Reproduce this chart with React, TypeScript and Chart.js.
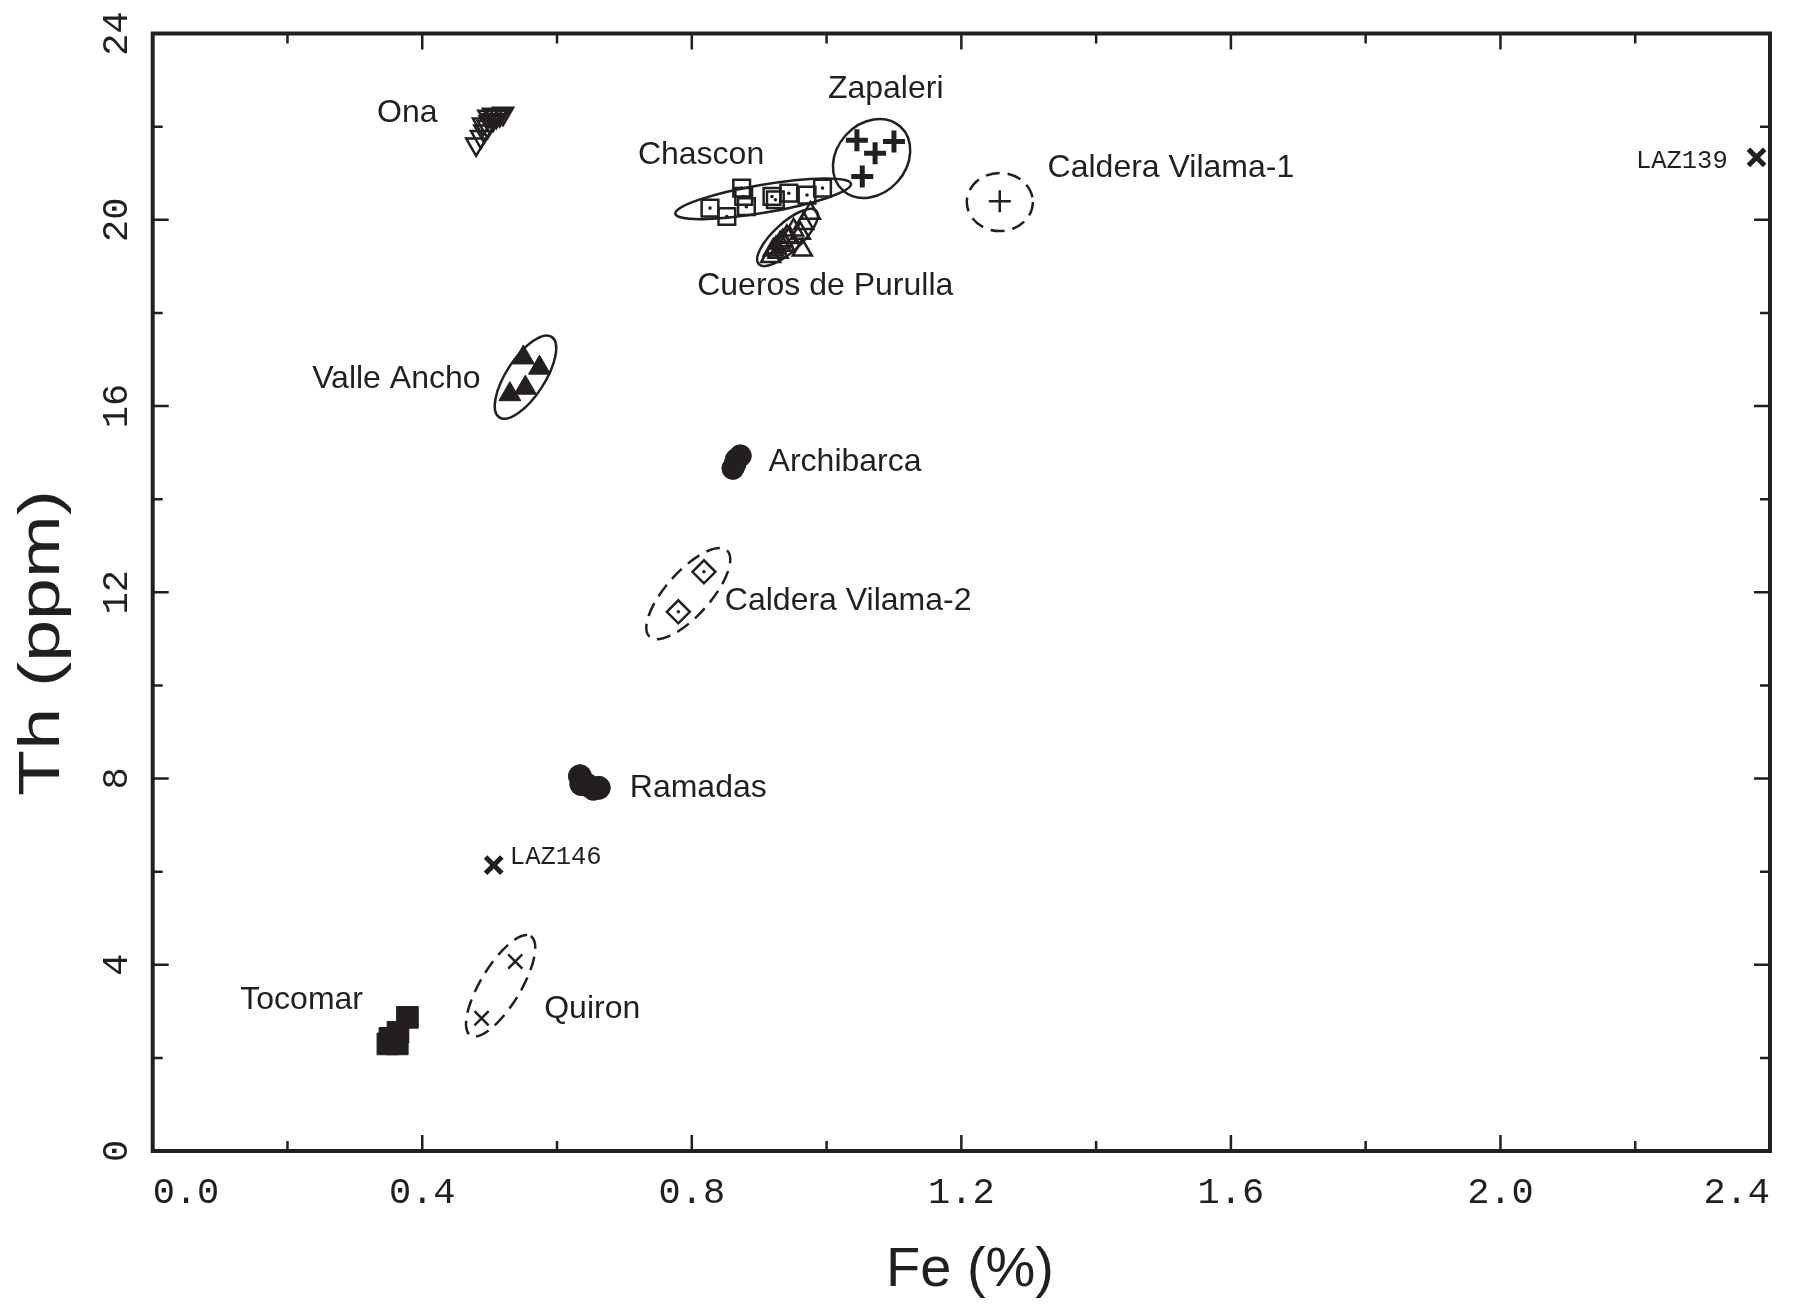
import React, { useEffect, useRef } from 'react';
import { Chart, registerables } from 'chart.js';

Chart.register(...registerables);

// ---- axis ticks ----
const xMajorTicks = [0, 0.4, 0.8, 1.2, 1.6, 2.0, 2.4];
const xTickLabels = ['0.0', '0.4', '0.8', '1.2', '1.6', '2.0', '2.4'];
const xMinorTicks = [0.2, 0.6, 1.0, 1.4, 1.8, 2.2];
const yMajorTicks = [0, 4, 8, 12, 16, 20, 24];
const yTickLabels = ['0', '4', '8', '12', '16', '20', '24'];
const yMinorTicks = [2, 6, 10, 14, 18, 22];

// ---- data (Fe %, Th ppm) ----
const onaFe = [0.480, 0.487, 0.492, 0.497, 0.500, 0.505, 0.510, 0.515, 0.520, 0.498, 0.505, 0.490];
const onaTh = [21.62, 21.78, 21.90, 22.00, 22.10, 22.15, 22.22, 22.25, 22.28, 22.22, 22.26, 22.05];

const chasconFe = [0.827, 0.852, 0.874, 0.877, 0.881, 0.919, 0.924, 0.944, 0.971, 0.994];
const chasconTh = [20.25, 20.07, 20.68, 20.50, 20.28, 20.50, 20.43, 20.57, 20.53, 20.68];

const cuerosFe = [0.917, 0.921, 0.925, 0.931, 0.935, 0.941, 0.945, 0.951, 0.961, 0.964, 0.966, 0.976, 0.928, 0.938];
const cuerosTh = [19.21, 19.35, 19.40, 19.50, 19.55, 19.64, 19.62, 19.78, 19.71, 19.35, 19.92, 20.14, 19.30, 19.45];

const zapaleriFe = [1.045, 1.072, 1.100, 1.053];
const zapaleriTh = [21.71, 21.43, 21.68, 20.93];

const vilama1Fe = [1.257];
const vilama1Th = [20.40];

const valleAnchoFe = [0.550, 0.574, 0.553, 0.530];
const valleAnchoTh = [17.04, 16.82, 16.39, 16.25];

const archibarcaFe = [0.861, 0.866, 0.872, 0.864];
const archibarcaTh = [14.66, 14.85, 14.93, 14.75];

const vilama2Fe = [0.818, 0.780];
const vilama2Th = [12.44, 11.58];

const ramadasFe = [0.634, 0.636, 0.645, 0.662, 0.654];
const ramadasTh = [8.05, 7.88, 7.86, 7.80, 7.78];

const laz146Fe = [0.506];
const laz146Th = [6.14];

const laz139Fe = [2.380];
const laz139Th = [21.34];

const tocomarFe = [0.378, 0.364, 0.363, 0.349, 0.352];
const tocomarTh = [2.87, 2.55, 2.30, 2.30, 2.42];

const quironFe = [0.538, 0.488];
const quironTh = [4.07, 2.85];

// ---- group ellipses (centre, half major axis in data units, minor/major ratio) ----
const ellipseNames = ['Chascon', 'Cueros de Purulla', 'Zapaleri', 'Caldera Vilama-1', 'Valle Ancho', 'Caldera Vilama-2', 'Quiron'];
const ellipseCenterFe = [0.9059, 0.942, 1.0668, 1.2571, 0.5532, 0.7948, 0.5163];
const ellipseCenterTh = [20.45, 19.62, 21.316, 20.38, 16.62, 11.97, 3.548];
const ellipseHalfAxisFe = [0.1304, 0.0428, 0.0426, 0.049, 0.0388, 0.0574, 0.0447];
const ellipseHalfAxisTh = [0.322, 0.573, 0.686, 0.0, 0.865, 0.928, 1.067];
const ellipseRatio = [0.157, 0.36, 0.81, 0.88, 0.40, 0.38, 0.344];
const ellipseDashed = [false, false, false, true, false, true, true];

// ---- group labels ----
const labelText = ['Ona', 'Zapaleri', 'Chascon', 'Caldera Vilama-1', 'Cueros de Purulla', 'Valle Ancho', 'Archibarca', 'Caldera Vilama-2', 'Ramadas', 'LAZ146', 'Tocomar', 'Quiron', 'LAZ139'];
const labelFe = [0.333, 1.002, 0.720, 1.328, 0.808, 0.2366, 0.914, 0.849, 0.708, 0.530, 0.130, 0.581, 2.201];
const labelTh = [22.29, 22.81, 21.39, 21.10, 18.57, 16.58, 14.79, 11.81, 7.79, 6.30, 3.23, 3.05, 21.25];
const labelSmall = [false, false, false, false, false, false, false, false, false, true, false, false, true];

const INK = '#231f20';
const SANS = '"Liberation Sans", Arial, Helvetica, sans-serif';
const MONO = '"Liberation Mono", "DejaVu Sans Mono", monospace';

const zip = (xs: number[], ys: number[]) => xs.map((v, i) => ({ x: v, y: ys[i] }));

const overlayPlugin = {
  id: 'overlay',
  afterDatasetsDraw(chart: any) {
    const { ctx, scales } = chart;
    const xs = scales.x;
    const ys = scales.y;
    ctx.save();
    ctx.strokeStyle = INK;
    ctx.lineWidth = 2.5;
    for (let i = 0; i < ellipseNames.length; i++) {
      const cx = xs.getPixelForValue(ellipseCenterFe[i]);
      const cy = ys.getPixelForValue(ellipseCenterTh[i]);
      const ex = xs.getPixelForValue(ellipseCenterFe[i] + ellipseHalfAxisFe[i]);
      const ey = ys.getPixelForValue(ellipseCenterTh[i] + ellipseHalfAxisTh[i]);
      const a = Math.hypot(ex - cx, ey - cy);
      const ang = Math.atan2(ey - cy, ex - cx);
      ctx.setLineDash(ellipseDashed[i] ? [14, 8] : []);
      ctx.beginPath();
      ctx.ellipse(cx, cy, a, a * ellipseRatio[i], ang, 0, Math.PI * 2);
      ctx.stroke();
    }
    ctx.setLineDash([]);
    ctx.fillStyle = INK;
    ctx.textAlign = 'left';
    ctx.textBaseline = 'middle';
    for (let i = 0; i < labelText.length; i++) {
      ctx.font = labelSmall[i] ? `25.5px ${MONO}` : `32px ${SANS}`;
      ctx.fillText(labelText[i], xs.getPixelForValue(labelFe[i]), ys.getPixelForValue(labelTh[i]));
    }
    ctx.restore();
  },
  afterDraw(chart: any) {
    const { ctx, chartArea, scales } = chart;
    const xs = scales.x;
    const ys = scales.y;
    const { left, right, top, bottom } = chartArea;
    ctx.save();
    ctx.strokeStyle = INK;
    ctx.lineWidth = 2.5;
    const major = 16;
    const minor = 10;
    ctx.beginPath();
    const xt = (v: number, len: number) => {
      const px = xs.getPixelForValue(v);
      ctx.moveTo(px, bottom); ctx.lineTo(px, bottom - len);
      ctx.moveTo(px, top); ctx.lineTo(px, top + len);
    };
    const yt = (v: number, len: number) => {
      const py = ys.getPixelForValue(v);
      ctx.moveTo(left, py); ctx.lineTo(left + len, py);
      ctx.moveTo(right, py); ctx.lineTo(right - len, py);
    };
    xMajorTicks.forEach((v) => xt(v, major));
    xMinorTicks.forEach((v) => xt(v, minor));
    yMajorTicks.forEach((v) => yt(v, major));
    yMinorTicks.forEach((v) => yt(v, minor));
    ctx.stroke();
    ctx.lineWidth = 4;
    ctx.strokeRect(left, top, right - left, bottom - top);

    // axis titles
    ctx.fillStyle = INK;
    ctx.font = `56px ${SANS}`;
    ctx.textAlign = 'center';
    ctx.textBaseline = 'middle';
    ctx.fillText('Fe (%)', 970, 1271);
    ctx.translate(43, 643);
    ctx.rotate(-Math.PI / 2);
    ctx.scale(1.3, 1);
    ctx.font = `58px ${SANS}`;
    ctx.fillText('Th (ppm)', 0, 0);
    ctx.restore();
  },
};

export default function App() {
  const canvasRef = useRef<HTMLCanvasElement | null>(null);

  useEffect(() => {
    document.body.style.margin = '0';
    const canvas = canvasRef.current;
    if (!canvas) return;

    const openStyle = { backgroundColor: 'rgba(0,0,0,0)', borderColor: INK };
    const filled = { backgroundColor: INK, borderColor: INK };

    const chart = new Chart(canvas, {
      type: 'scatter',
      data: {
        datasets: [
          { label: 'Chascon centre', data: zip(chasconFe, chasconTh), pointStyle: 'circle', pointRadius: 1.8, pointBorderWidth: 0, ...filled },
          { label: 'Caldera Vilama-2 centre', data: zip(vilama2Fe, vilama2Th), pointStyle: 'circle', pointRadius: 1.8, pointBorderWidth: 0, ...filled },
          { label: 'Ona', data: zip(onaFe, onaTh), pointStyle: 'triangle', pointRotation: 180, pointRadius: 11.5, pointBorderWidth: 2.5, ...openStyle },
          { label: 'Chascon', data: zip(chasconFe, chasconTh), pointStyle: 'rect', pointRadius: 11.8, pointBorderWidth: 2.5, ...openStyle },
          { label: 'Cueros de Purulla', data: zip(cuerosFe, cuerosTh), pointStyle: 'triangle', pointRadius: 11, pointBorderWidth: 2.5, ...openStyle },
          { label: 'Zapaleri', data: zip(zapaleriFe, zapaleriTh), pointStyle: 'cross', pointRadius: 11, pointBorderWidth: 5, ...filled },
          { label: 'Caldera Vilama-1', data: zip(vilama1Fe, vilama1Th), pointStyle: 'cross', pointRadius: 11, pointBorderWidth: 2.5, ...filled },
          { label: 'Valle Ancho', data: zip(valleAnchoFe, valleAnchoTh), pointStyle: 'triangle', pointRadius: 12.7, pointBorderWidth: 1, ...filled },
          { label: 'Archibarca', data: zip(archibarcaFe, archibarcaTh), pointStyle: 'circle', pointRadius: 11, pointBorderWidth: 1, ...filled },
          { label: 'Caldera Vilama-2', data: zip(vilama2Fe, vilama2Th), pointStyle: 'rectRot', pointRadius: 11.5, pointBorderWidth: 2.5, ...openStyle },
          { label: 'Ramadas', data: zip(ramadasFe, ramadasTh), pointStyle: 'circle', pointRadius: 11.5, pointBorderWidth: 1, ...filled },
          { label: 'LAZ146', data: zip(laz146Fe, laz146Th), pointStyle: 'crossRot', pointRadius: 11.5, pointBorderWidth: 5, ...filled },
          { label: 'LAZ139', data: zip(laz139Fe, laz139Th), pointStyle: 'crossRot', pointRadius: 11.5, pointBorderWidth: 5, ...filled },
          { label: 'Tocomar', data: zip(tocomarFe, tocomarTh), pointStyle: 'rect', pointRadius: 15.3, pointBorderWidth: 1, ...filled },
          { label: 'Quiron', data: zip(quironFe, quironTh), pointStyle: 'crossRot', pointRadius: 10, pointBorderWidth: 2.5, ...filled },
        ],
      },
      options: {
        responsive: false,
        animation: false,
        devicePixelRatio: 1,
        events: [],
        layout: { padding: { left: 0, right: 42, top: 33.5, bottom: 0 } },
        plugins: { legend: { display: false }, tooltip: { enabled: false } },
        scales: {
          x: {
            type: 'linear',
            min: 0,
            max: 2.4,
            grid: { display: false, drawTicks: true, tickLength: 12 },
            border: { display: false },
            afterFit: (s: any) => { s.height = 156; },
            afterBuildTicks: (s: any) => { s.ticks = xMajorTicks.map((v) => ({ value: v })); },
            ticks: {
              padding: 8,
              align: 'inner',
              color: INK,
              font: { family: MONO, size: 37 },
              maxRotation: 0,
              callback: (_v: any, i: number) => xTickLabels[i],
            },
          },
          y: {
            type: 'linear',
            min: 0,
            max: 24,
            grid: { display: false, drawTicks: true, tickLength: 8 },
            border: { display: false },
            afterFit: (s: any) => { s.width = 152.7; },
            afterBuildTicks: (s: any) => { s.ticks = yMajorTicks.map((v) => ({ value: v })); },
            ticks: {
              padding: 5,
              color: INK,
              font: { family: MONO, size: 37 },
              minRotation: 90,
              maxRotation: 90,
              crossAlign: 'center',
              callback: (_v: any, i: number) => yTickLabels[i],
            },
          },
        },
      },
      plugins: [overlayPlugin],
    } as any);

    return () => chart.destroy();
  }, []);

  return (
    <div style={{ width: 1812, height: 1307 }}>
      <canvas ref={canvasRef} width={1812} height={1307} style={{ display: 'block' }} />
    </div>
  );
}
